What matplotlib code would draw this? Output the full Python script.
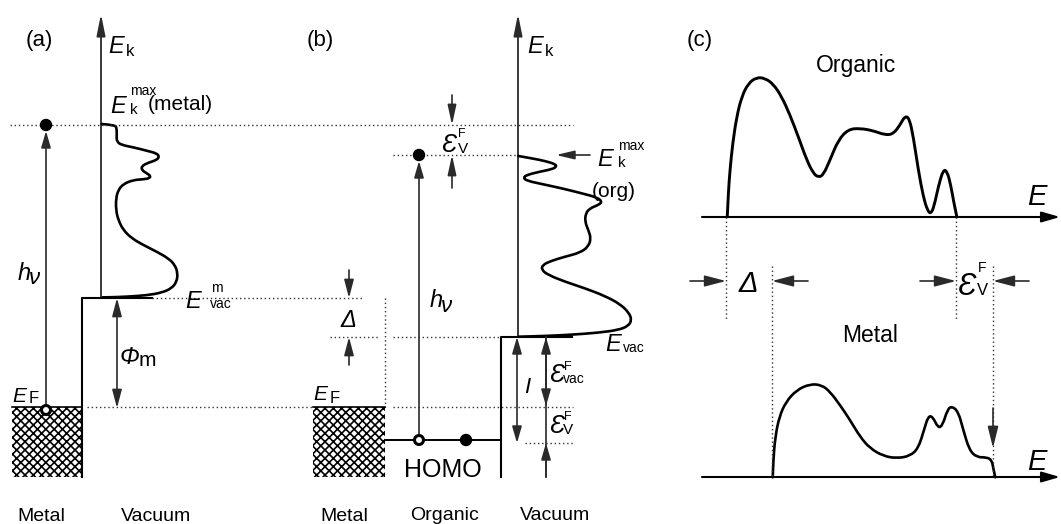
import matplotlib
matplotlib.use("Agg")
import matplotlib.pyplot as plt
from matplotlib.patches import Rectangle, Circle, FancyArrowPatch, PathPatch
from matplotlib.path import Path

plt.rcParams['font.family'] = ['Liberation Sans', 'DejaVu Sans']
plt.rcParams['hatch.linewidth'] = 1.2

# energy levels (pixel rows of the sketch)
lvl_kmax_metal = 125
lvl_kmax_org = 155
lvl_vac_metal = 298
lvl_vac_org = 337
lvl_fermi = 407
lvl_homo = 440
lvl_homo_vac = 443
lvl_bottom = 477

# spectrum (a): intensity drawn to the right of the E_k axis
spec_a_x = [101.7, 115.0, 116.7, 116.7, 116.7, 121.7, 133.3, 146.7, 156.7, 159.3, 156.7,
            148.3, 141.7, 141.7, 146.7, 150.7, 149.3, 143.3, 133.3, 123.3, 118.3, 116.0,
            116.0, 118.3, 123.3, 131.7, 143.3, 156.7, 168.3, 175.0, 177.7, 176.7, 171.7,
            161.7, 146.7, 126.7, 110.0, 102.7]
spec_a_y = [124.0, 125.0, 128.3, 135.0, 141.7, 145.0, 147.3, 150.7, 153.3, 156.7, 160.0,
            162.7, 166.0, 170.0, 173.3, 176.0, 178.3, 179.3, 180.0, 184.0, 190.0, 198.3,
            210.0, 220.0, 230.0, 238.3, 245.0, 251.7, 258.3, 265.0, 273.3, 281.7, 288.3,
            292.7, 295.3, 296.7, 297.3, 297.3]

# spectrum (b)
spec_b_x = [518.3, 531.7, 545.0, 555.0, 556.7, 551.7, 538.3, 526.7, 523.3, 526.7, 541.7,
            561.7, 581.7, 596.7, 602.3, 598.3, 590.0, 585.7, 585.0, 588.3, 591.0, 588.3,
            580.0, 565.0, 551.7, 542.3, 541.7, 548.3, 565.0, 585.0, 605.0, 620.0, 629.0,
            631.7, 628.3, 618.3, 598.3, 571.7, 545.0, 518.3]
spec_b_y = [156.0, 158.3, 161.0, 164.0, 166.7, 169.3, 172.0, 175.0, 177.7, 180.7, 184.0,
            188.3, 193.3, 197.3, 201.7, 205.0, 208.3, 213.3, 221.7, 230.0, 238.3, 246.7,
            252.7, 256.7, 260.7, 265.0, 270.0, 275.0, 281.7, 288.3, 296.0, 304.0, 312.7,
            320.0, 326.0, 330.0, 332.7, 334.7, 336.0, 336.7]

# spectrum (c), organic
org_x = [727.3, 728.3, 730.0, 732.7, 736.7, 741.7, 748.3, 756.7, 765.0, 773.3, 781.7,
         790.0, 798.3, 806.7, 813.3, 818.3, 823.3, 830.0, 838.3, 848.3, 860.0, 873.3,
         885.0, 893.3, 900.0, 905.0, 909.3, 913.3, 918.3, 923.3, 927.3, 930.7, 934.0,
         938.3, 943.3, 947.3, 950.7, 954.0, 956.7]
org_y = [216.0, 193.3, 170.0, 143.3, 116.7, 96.7, 83.3, 77.3, 78.3, 84.0, 96.7,
         115.0, 136.7, 160.0, 173.3, 177.3, 175.0, 160.0, 140.0, 129.3, 128.3, 130.7,
         135.0, 134.0, 125.0, 116.0, 118.3, 136.7, 170.0, 196.7, 210.0, 214.0, 206.7,
         186.7, 169.3, 171.7, 185.0, 203.3, 216.0]

# spectrum (c), metal
met_x = [772.7, 773.3, 775.3, 779.3, 786.0, 796.7, 810.0, 821.7, 830.0, 840.0, 850.0,
         860.0, 870.0, 883.3, 896.7, 910.0, 918.3, 924.0, 928.3, 932.7, 938.3, 942.7,
         947.3, 951.7, 958.3, 963.3, 969.3, 976.7, 986.7, 991.7, 993.3, 995.3]
met_y = [477.3, 460.0, 436.7, 416.7, 401.7, 390.0, 384.0, 385.0, 391.7, 405.0, 420.0,
         436.7, 448.3, 456.0, 458.3, 456.0, 448.3, 430.0, 416.0, 416.7, 428.3, 425.0,
         410.0, 406.0, 411.7, 430.0, 450.0, 457.3, 457.3, 460.0, 468.3, 477.3]

fig = plt.figure(figsize=(10.61, 5.24), dpi=100)
ax = fig.add_axes([0, 0, 1, 1])
ax.set_xlim(0, 1061)
ax.set_ylim(524, 0)
ax.axis('off')

LINE = '#2a2a2a'


def arrow(x0, y0, x1, y1, both=False, hl=10, hw=2.9, lw=1.2, color=LINE):
    style = '<|-|>' if both else '-|>'
    ax.add_patch(FancyArrowPatch((x0, y0), (x1, y1),
                                 arrowstyle=f'{style},head_length={hl},head_width={hw}',
                                 mutation_scale=1, shrinkA=0, shrinkB=0,
                                 lw=lw, color=color))


def curve(xs, ys, lw=1.9):
    # quadratic bezier through the midpoints, traced points act as controls
    pts = list(zip(xs, ys))
    verts = [pts[0]]
    codes = [Path.MOVETO]
    for i in range(1, len(pts) - 1):
        mid = ((pts[i][0] + pts[i + 1][0]) / 2, (pts[i][1] + pts[i + 1][1]) / 2)
        verts += [pts[i], mid]
        codes += [Path.CURVE3, Path.CURVE3]
    verts.append(pts[-1])
    codes.append(Path.LINETO)
    ax.add_patch(PathPatch(Path(verts, codes), fill=False, lw=lw, edgecolor='black',
                           capstyle='round', joinstyle='round'))


def dots(xs, ys):
    ax.plot(xs, ys, color='#333333', lw=1.0, linestyle=(0, (1, 2)))


def t(x, y, s, size, italic=False):
    ax.text(x, y, s, fontsize=size, ha='left', va='baseline',
            style='italic' if italic else 'normal', color='black')


def block(x0, x1):
    ax.add_patch(Rectangle((x0, lvl_fermi), x1 - x0, lvl_bottom - lvl_fermi,
                           facecolor='white', edgecolor='black', lw=0, hatch='xxxx'))
    ax.plot([x0, x1], [lvl_fermi, lvl_fermi], color='black', lw=1.2)


def dot(x, y, filled=True):
    if filled:
        ax.add_patch(Circle((x, y), 5.5, facecolor='black', edgecolor='black', zorder=5))
    else:
        ax.add_patch(Circle((x, y), 4.5, facecolor='white', edgecolor='black', lw=2.2, zorder=5))


# ---------------- panel (a) ----------------
t(26, 46, '(a)', 16)
dots([10, 260], [lvl_kmax_metal] * 2)
arrow(101, lvl_vac_metal, 101, 14, hl=13, hw=2.6, lw=1.3)
t(108, 53, 'E', 17, True)
t(126, 56, 'k', 12)
t(110, 113, 'E', 17, True)
t(130, 95, 'max', 10)
t(130, 114, 'k', 11)
t(148, 110, '(metal)', 15)

block(12, 82)
ax.plot([82, 82, 152], [lvl_bottom, lvl_vac_metal, lvl_vac_metal], color='black', lw=1.5)
dots([152, 260], [lvl_vac_metal] * 2)
dots([87, 260], [lvl_fermi] * 2)
curve(spec_a_x, spec_a_y)

arrow(46, 410, 46, 131, hl=10, hw=2.9)
dot(46, lvl_kmax_metal)
dot(46, 410, filled=False)
t(18, 280, 'h', 17, True)
t(29, 284, 'ν', 16, True)

arrow(117, lvl_vac_metal, 117, lvl_fermi + 1, both=True, hl=11, hw=2.9)
t(120, 364, 'Φ', 17, True)
t(139, 366, 'm', 15)
t(185, 308, 'E', 17, True)
t(211, 292, 'm', 10)
t(210, 308, 'vac', 10)
t(12, 402, 'E', 15, True)
t(29, 403, 'F', 12)

t(17, 521, 'Metal', 14)
t(121, 521, 'Vacuum', 14)

# ---------------- panel (b) ----------------
t(307, 46, '(b)', 16)
dots([260, 573], [lvl_kmax_metal] * 2)
dots([393, 518], [lvl_kmax_org] * 2)
arrow(518, lvl_vac_org, 518, 14, hl=13, hw=2.6, lw=1.3)
t(527, 53, 'E', 17, True)
t(545, 56, 'k', 12)

arrow(452, 95, 452, lvl_kmax_metal, hl=12, hw=2.6)
arrow(452, 188, 452, lvl_kmax_org, hl=12, hw=2.6)
t(441, 152, 'Ɛ', 18, True)
t(458, 137, 'F', 9)
t(458, 153, 'V', 11)

curve(spec_b_x, spec_b_y)
arrow(590, lvl_kmax_org, 556, lvl_kmax_org, hl=11, hw=2.6)
t(597, 166, 'E', 17, True)
t(618, 150, 'max', 10)
t(618, 167, 'k', 11)
t(592, 197, '(org)', 15)

dots([260, 362], [lvl_vac_metal] * 2)
arrow(349, 270, 349, lvl_vac_metal, hl=11, hw=2.9)
arrow(349, 365, 349, lvl_vac_org, hl=11, hw=2.9)
t(340, 327, 'Δ', 17, True)
dots([330, 378], [lvl_vac_org] * 2)
dots([393, 500], [lvl_vac_org] * 2)
dots([385, 385], [lvl_vac_metal, lvl_fermi])

block(313, 385)
dots([260, 313], [lvl_fermi] * 2)
dots([393, 573], [lvl_fermi] * 2)
dots([525, 573], [lvl_homo_vac] * 2)
ax.plot([385, 501], [lvl_homo, lvl_homo], color='black', lw=1.4)
ax.plot([501, 501, 572], [lvl_bottom, lvl_vac_org, lvl_vac_org], color='black', lw=1.5)

arrow(419, lvl_homo, 419, 161, hl=10, hw=2.9)
dot(419, lvl_kmax_org)
dot(419, lvl_homo, filled=False)
dot(466, lvl_homo)
t(430, 307, 'h', 17, True)
t(441, 312, 'ν', 16, True)

arrow(517, lvl_vac_org, 517, lvl_homo_vac, both=True, hl=10, hw=2.9)
t(524, 393, 'I', 16, True)
ax.plot([546, 546], [lvl_vac_org, lvl_bottom], color=LINE, lw=1.2)
arrow(546, lvl_fermi - 2, 546, lvl_vac_org, hl=10, hw=2.9)
arrow(546, lvl_vac_org + 2, 546, lvl_fermi - 1, hl=10, hw=2.9)
arrow(546, lvl_bottom, 546, lvl_homo_vac, hl=10, hw=2.9)
t(549, 382, 'Ɛ', 18, True)
t(564, 370, 'F', 9)
t(563, 383, 'vac', 10)
t(549, 433, 'Ɛ', 18, True)
t(564, 420, 'F', 9)
t(563, 434, 'V', 11)
t(605, 351, 'E', 17, True)
t(623, 352, 'vac', 10)

t(313, 400, 'E', 15, True)
t(330, 403, 'F', 12)
t(404, 477, 'HOMO', 18)

t(320, 521, 'Metal', 14)
t(410, 520, 'Organic', 14)
t(520, 520, 'Vacuum', 14)

# ---------------- panel (c) ----------------
t(687, 46, '(c)', 16)
t(816, 72, 'Organic', 16.5)
arrow(702, 217, 1060, 217, hl=11, hw=3.2, lw=1.5, color='black')
t(1027, 205, 'E', 21, True)
curve(org_x, org_y, lw=2.1)

dots([726, 726], [217, 320])
dots([956, 956], [217, 320])
dots([772, 772], [266, 477])
dots([993, 993], [266, 477])
arrow(690, 281, 726, 281, hl=13, hw=3.4)
arrow(808, 281, 772, 281, hl=13, hw=3.4)
t(739, 292, 'Δ', 21, True)
arrow(920, 281, 956, 281, hl=13, hw=3.4)
arrow(1029, 281, 993, 281, hl=13, hw=3.4)
t(958, 295, 'Ɛ', 22, True)
t(978, 272, 'F', 10)
t(977, 295, 'V', 12)

t(842, 342, 'Metal', 16.5)
arrow(702, 477, 1060, 477, hl=11, hw=3.2, lw=1.5, color='black')
t(1027, 470, 'E', 21, True)
curve(met_x, met_y)
arrow(993, 408, 993, 448, hl=13, hw=3.2)

fig.savefig('out.png', dpi=100)
